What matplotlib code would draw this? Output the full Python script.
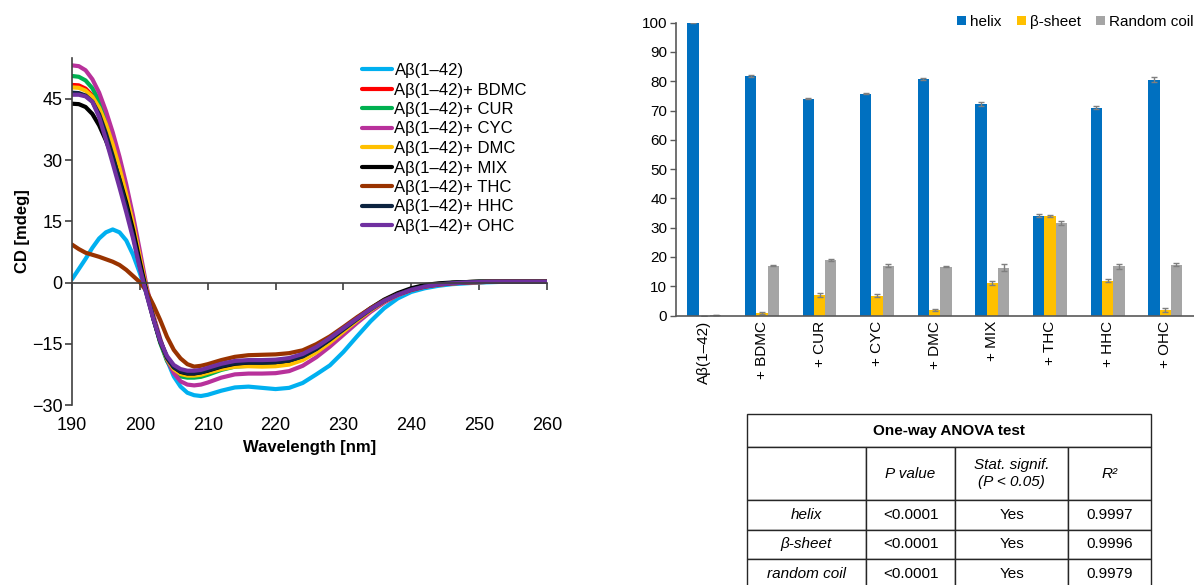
import matplotlib
matplotlib.use("Agg")
import matplotlib.pyplot as plt
import numpy as np

plt.rcParams['font.family'] = ['Liberation Sans', 'DejaVu Sans']

# CD spectra (mdeg)
wavelength = list(range(190, 211)) + list(range(212, 261, 2))

cd_abeta = [0.8, 3.3, 5.8, 8.5, 10.8, 12.3, 13.0, 12.3, 10.3, 6.8, 2.3, -2.8, -8.5, -14.0, -19.0, -23.0, -25.5, -27.0, -27.6, -27.8, -27.5,
            -26.5, -25.7, -25.5, -25.8, -26.1, -25.8, -24.6, -22.5, -20.3, -17.0, -13.2, -9.5, -6.3, -3.9, -2.3, -1.4, -0.8, -0.4, -0.2, 0.0, 0.1, 0.2, 0.2, 0.2, 0.2]
cd_bdmc = [48.4, 48.3, 47.5, 45.8, 42.8, 38.5, 33.3, 27.5, 21.0, 14.0, 6.0, -2.0, -8.7, -14.5, -18.7, -21.1, -22.2, -22.6, -22.6, -22.4, -21.9,
           -21.0, -20.3, -20.2, -20.2, -20.1, -19.7, -18.6, -16.8, -14.4, -11.8, -9.1, -6.6, -4.5, -2.9, -1.7, -0.9, -0.4, -0.1, 0.1, 0.2, 0.2, 0.2, 0.2, 0.2, 0.2]
cd_cur = [50.6, 50.4, 49.5, 47.6, 44.5, 40.2, 35.0, 29.0, 22.3, 15.0, 6.7, -1.8, -8.8, -14.8, -19.2, -21.8, -23.0, -23.3, -23.3, -23.1, -22.6,
          -21.4, -20.6, -20.4, -20.4, -20.3, -19.9, -18.8, -16.9, -14.5, -11.8, -9.1, -6.6, -4.5, -2.9, -1.7, -0.9, -0.4, -0.1, 0.1, 0.2, 0.2, 0.2, 0.2, 0.2, 0.2]
cd_cyc = [53.2, 53.0, 52.0, 49.8, 46.5, 42.0, 36.8, 30.8, 24.0, 16.3, 7.8, -1.0, -8.0, -13.8, -18.8, -22.2, -24.2, -25.0, -25.2, -25.0, -24.5,
          -23.3, -22.5, -22.3, -22.3, -22.2, -21.7, -20.4, -18.3, -15.7, -12.8, -9.9, -7.2, -4.9, -3.1, -1.8, -1.0, -0.5, -0.2, 0.0, 0.1, 0.2, 0.2, 0.2, 0.2, 0.2]
cd_dmc = [47.8, 47.7, 47.0, 45.5, 42.8, 38.8, 33.8, 28.0, 21.5, 14.3, 6.2, -1.8, -8.5, -14.3, -18.7, -21.2, -22.4, -22.8, -22.8, -22.6, -22.1,
          -21.2, -20.6, -20.5, -20.6, -20.5, -20.1, -19.0, -17.1, -14.7, -12.0, -9.3, -6.8, -4.6, -3.0, -1.8, -1.0, -0.5, -0.2, 0.0, 0.1, 0.2, 0.2, 0.2, 0.2, 0.2]
cd_mix = [43.8, 43.7, 43.0, 41.3, 38.5, 34.8, 30.5, 25.3, 19.5, 12.8, 5.0, -2.3, -8.8, -14.3, -18.3, -20.7, -21.9, -22.3, -22.3, -22.0, -21.6,
          -20.6, -19.9, -19.6, -19.6, -19.5, -19.1, -18.0, -16.2, -13.9, -11.3, -8.7, -6.3, -4.2, -2.6, -1.4, -0.6, -0.2, 0.0, 0.1, 0.2, 0.2, 0.2, 0.2, 0.2, 0.2]
cd_thc = [9.3, 8.2, 7.3, 6.8, 6.3, 5.7, 5.1, 4.3, 3.1, 1.6, 0.1, -2.2, -5.5, -9.2, -13.3, -16.5, -18.6, -20.0, -20.6, -20.4, -20.0,
          -19.0, -18.2, -17.8, -17.7, -17.6, -17.3, -16.6, -15.1, -13.2, -10.9, -8.5, -6.3, -4.4, -2.9, -1.8, -1.0, -0.5, -0.2, 0.0, 0.1, 0.2, 0.2, 0.2, 0.2, 0.2]
cd_hhc = [46.5, 46.4, 45.8, 44.3, 41.2, 36.5, 31.0, 25.0, 18.5, 11.5, 4.0, -2.8, -9.0, -14.5, -18.5, -20.8, -21.8, -22.2, -22.2, -22.0, -21.5,
          -20.5, -19.8, -19.6, -19.6, -19.5, -19.1, -18.1, -16.3, -14.0, -11.5, -9.0, -6.6, -4.5, -2.9, -1.7, -0.9, -0.4, -0.1, 0.1, 0.2, 0.2, 0.2, 0.2, 0.2, 0.2]
cd_ohc = [46.0, 46.0, 45.6, 44.3, 40.5, 35.0, 29.2, 23.3, 17.2, 10.8, 3.5, -3.0, -9.0, -14.3, -18.0, -20.2, -21.2, -21.6, -21.6, -21.4, -20.9,
          -19.9, -19.2, -19.0, -19.0, -18.9, -18.5, -17.5, -15.8, -13.6, -11.2, -8.8, -6.5, -4.5, -3.0, -1.8, -1.0, -0.5, -0.2, 0.0, 0.1, 0.2, 0.2, 0.2, 0.2, 0.2]

series_labels = ["Aβ(1–42)", "Aβ(1–42)+ BDMC", "Aβ(1–42)+ CUR", "Aβ(1–42)+ CYC", "Aβ(1–42)+ DMC",
                 "Aβ(1–42)+ MIX", "Aβ(1–42)+ THC", "Aβ(1–42)+ HHC", "Aβ(1–42)+ OHC"]
series_values = [cd_abeta, cd_bdmc, cd_cur, cd_cyc, cd_dmc, cd_mix, cd_thc, cd_hhc, cd_ohc]
series_colors = ['#00B0F0', '#FF0000', '#00B050', '#B8319B', '#FFC000', '#000000', '#993300', '#0C2340', '#7030A0']

# secondary structure (%)
categories = ["Aβ(1–42)", "+ BDMC", "+ CUR", "+ CYC", "+ DMC", "+ MIX", "+ THC", "+ HHC", "+ OHC"]
helix = [100, 81.8, 74.1, 75.8, 80.9, 72.3, 34.1, 71.0, 80.5]
helix_err = [0.2, 0.2, 0.3, 0.3, 0.3, 0.6, 0.6, 0.6, 0.9]
beta = [0, 0.9, 7.0, 6.8, 2.0, 11.1, 34.1, 11.9, 1.8]
beta_err = [0, 0.4, 0.6, 0.5, 0.3, 0.7, 0.3, 0.5, 0.6]
coil = [0.2, 17.0, 18.9, 17.0, 16.7, 16.3, 31.6, 16.8, 17.4]
coil_err = [0.1, 0.2, 0.4, 0.6, 0.2, 1.2, 0.7, 0.9, 0.4]

# ANOVA table
anova_title = "One-way ANOVA test"
anova_header = ["", "P value", "Stat. signif.\n(P < 0.05)", "R²"]
anova_rows = ["helix", "β-sheet", "random coil"]
anova_p = ["<0.0001", "<0.0001", "<0.0001"]
anova_sig = ["Yes", "Yes", "Yes"]
anova_r2 = ["0.9997", "0.9996", "0.9979"]

W, H = 1194, 585
fig = plt.figure(figsize=(W / 100, H / 100), dpi=100)
axc = '#404040'

# ---- CD spectra ----
ax = fig.add_axes([72 / W, 1 - 405 / H, 475 / W, 347 / H])
for vals, lab, col in zip(series_values, series_labels, series_colors):
    ax.plot(wavelength, vals, color=col, lw=3, label=lab, solid_capstyle='round', solid_joinstyle='round')
ax.set_xlim(190, 260)
ax.set_ylim(-30, 55)
ax.set_yticks([-30, -15, 0, 15, 30, 45])
ax.set_xticks(range(190, 261, 10))
for s in ['top', 'right']:
    ax.spines[s].set_visible(False)
ax.spines['bottom'].set_position(('data', 0))
for s in ['left', 'bottom']:
    ax.spines[s].set_color(axc)
    ax.spines[s].set_linewidth(1.2)
ax.tick_params(axis='x', direction='out', length=5, width=1.2, color=axc, labelbottom=False)
ax.tick_params(axis='y', direction='out', length=5, width=1.2, color=axc, labelsize=13, pad=2)
ax.set_ylabel("CD [mdeg]", fontsize=12, fontweight='bold')
ax.yaxis.set_label_coords(-0.088, 0.5)

sec = ax.secondary_xaxis('bottom')
sec.set_xticks(range(190, 261, 10))
sec.spines['bottom'].set_visible(False)
sec.tick_params(length=0, labelsize=13, pad=9)
sec.set_xlabel("Wavelength [nm]", fontsize=12, fontweight='bold', labelpad=4)

fig.legend(*ax.get_legend_handles_labels(), loc='upper left', bbox_to_anchor=(362 / W, 1 - 63 / H),
           bbox_transform=fig.transFigure, frameon=False, fontsize=12, handlelength=1.8,
           handletextpad=0.15, labelspacing=0.27, borderpad=0, borderaxespad=0)

# ---- Secondary structure bars ----
bx = fig.add_axes([675.5 / W, 1 - 315.5 / H, (W - 675.5) / W, (315.5 - 22.7) / H])
x = np.arange(len(categories))
bw = 0.196
ekw = dict(ecolor='#7F7F7F', elinewidth=1, capsize=2.5, capthick=1)
bx.bar(x - bw, helix, bw, yerr=helix_err, color='#0070C0', label='helix', error_kw=ekw)
bx.bar(x, beta, bw, yerr=beta_err, color='#FFC000', label='β-sheet', error_kw=ekw)
bx.bar(x + bw, coil, bw, yerr=coil_err, color='#A5A5A5', label='Random coil', error_kw=ekw)
bx.set_xlim(-0.5, len(categories) - 0.5)
bx.set_ylim(0, 100)
bx.set_yticks(range(0, 101, 10))
bx.set_xticks(x)
bx.set_xticklabels(categories, rotation=90, fontsize=11)
for s in ['top', 'right']:
    bx.spines[s].set_visible(False)
for s in ['left', 'bottom']:
    bx.spines[s].set_color('#595959')
    bx.spines[s].set_linewidth(1.2)
bx.tick_params(axis='x', length=0, pad=4)
bx.tick_params(axis='y', direction='out', length=4, width=1, color='#595959', labelsize=11, pad=2)
bx.legend(loc='upper right', bbox_to_anchor=(1193.5 / W, 1 - 15 / H), bbox_transform=fig.transFigure,
          ncol=3, frameon=False, fontsize=11, handlelength=0.6, handleheight=0.6,
          handletextpad=0.25, columnspacing=1.0, borderpad=0, borderaxespad=0)

# ---- ANOVA table ----
title_h = 33
row_h = [53, 29.5, 29.5, 29.5]
col_w = [119.3, 89, 113.3, 82.4]
tot_h, tot_w = title_h + sum(row_h), sum(col_w)
tx = fig.add_axes([746.7 / W, 1 - (414 + tot_h) / H, tot_w / W, tot_h / H])
tx.axis('off')
body_frac = sum(row_h) / tot_h

head = tx.table(cellText=[[anova_title]], cellLoc='center', bbox=[0, body_frac, 1, 1 - body_frac])
head.auto_set_font_size(False)
hc = head[0, 0]
hc.set_edgecolor('#262626')
hc.set_linewidth(1)
hc.get_text().set_fontsize(11)
hc.get_text().set_fontweight('bold')

cell_text = [anova_header]
for r, p, s, r2 in zip(anova_rows, anova_p, anova_sig, anova_r2):
    cell_text.append([r, p, s, r2])
tbl = tx.table(cellText=cell_text, colWidths=[c / tot_w for c in col_w], cellLoc='center',
               bbox=[0, 0, 1, body_frac])
tbl.auto_set_font_size(False)
for (r, c), cell in tbl.get_celld().items():
    cell.set_height(row_h[r] / tot_h)
    cell.set_edgecolor('#262626')
    cell.set_linewidth(1)
    cell.get_text().set_fontsize(11)
    if r == 0 or c == 0:
        cell.get_text().set_fontstyle('italic')

fig.savefig('out.png', dpi=100)
